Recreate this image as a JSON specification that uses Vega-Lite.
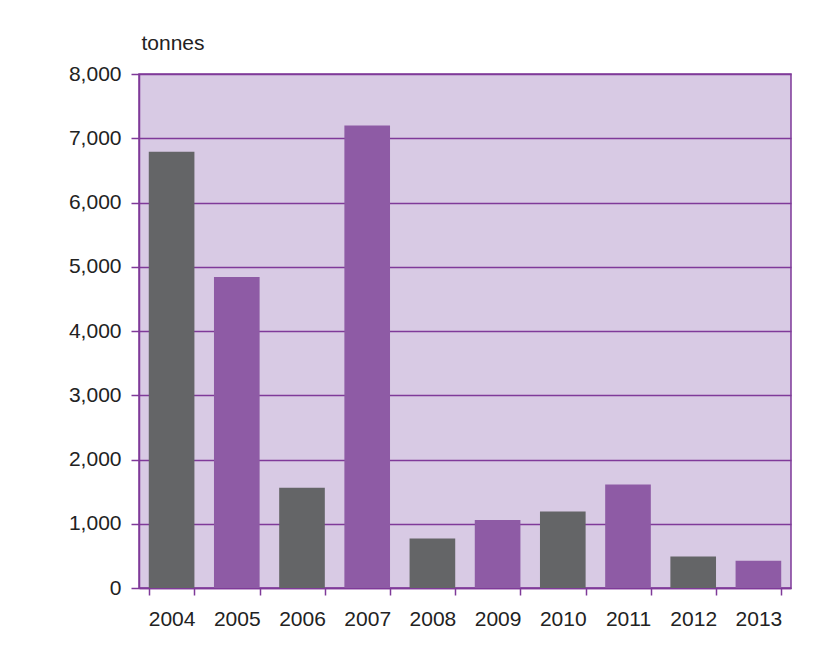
{
  "$schema": "https://vega.github.io/schema/vega-lite/v6.json",
  "width": 652,
  "height": 514,
  "autosize": {"type": "none"},
  "padding": {"left": 139, "top": 74, "right": 30, "bottom": 64},
  "background": "white",
  "config": {
    "font": "Liberation Sans",
    "view": {"fill": "#D8CAE4", "stroke": "#7F3A99", "strokeWidth": 1.5}
  },
  "data": {
    "values": [
      {"year": "2004", "tonnes": 6790},
      {"year": "2005", "tonnes": 4840},
      {"year": "2006", "tonnes": 1560},
      {"year": "2007", "tonnes": 7200},
      {"year": "2008", "tonnes": 770},
      {"year": "2009", "tonnes": 1060},
      {"year": "2010", "tonnes": 1190},
      {"year": "2011", "tonnes": 1610},
      {"year": "2012", "tonnes": 490},
      {"year": "2013", "tonnes": 425}
    ]
  },
  "mark": {"type": "bar"},
  "encoding": {
    "x": {
      "field": "year",
      "type": "nominal",
      "scale": {"paddingInner": 0.3, "paddingOuter": 0.15},
      "axis": {
        "title": null,
        "labelAngle": 0,
        "labelFontSize": 21,
        "labelColor": "#222222",
        "labelPadding": 13,
        "labelBaseline": "top",
        "tickBand": "extent",
        "tickSize": 7,
        "tickColor": "#7F3A99",
        "tickWidth": 1.5,
        "domainColor": "#7F3A99",
        "domainWidth": 1.5,
        "grid": false
      }
    },
    "y": {
      "field": "tonnes",
      "type": "quantitative",
      "scale": {"domain": [0, 8000], "nice": false},
      "axis": {
        "values": [0, 1000, 2000, 3000, 4000, 5000, 6000, 7000, 8000],
        "format": ",d",
        "title": "tonnes",
        "titleAngle": 0,
        "titleAlign": "left",
        "titleBaseline": "alphabetic",
        "titleX": 2,
        "titleY": -25,
        "titleFontSize": 21,
        "titleFontWeight": "normal",
        "titleColor": "#222222",
        "labelFontSize": 21,
        "labelColor": "#222222",
        "labelPadding": 10,
        "tickSize": 8,
        "tickColor": "#7F3A99",
        "tickWidth": 1.5,
        "domainColor": "#7F3A99",
        "domainWidth": 1.5,
        "grid": true,
        "gridColor": "#7F3A99",
        "gridWidth": 1.5,
        "gridOpacity": 1
      }
    },
    "color": {
      "field": "year",
      "type": "nominal",
      "legend": null,
      "scale": {
        "domain": ["2004", "2005", "2006", "2007", "2008", "2009", "2010", "2011", "2012", "2013"],
        "range": ["#646567", "#8E5BA5", "#646567", "#8E5BA5", "#646567", "#8E5BA5", "#646567", "#8E5BA5", "#646567", "#8E5BA5"]
      }
    }
  }
}
